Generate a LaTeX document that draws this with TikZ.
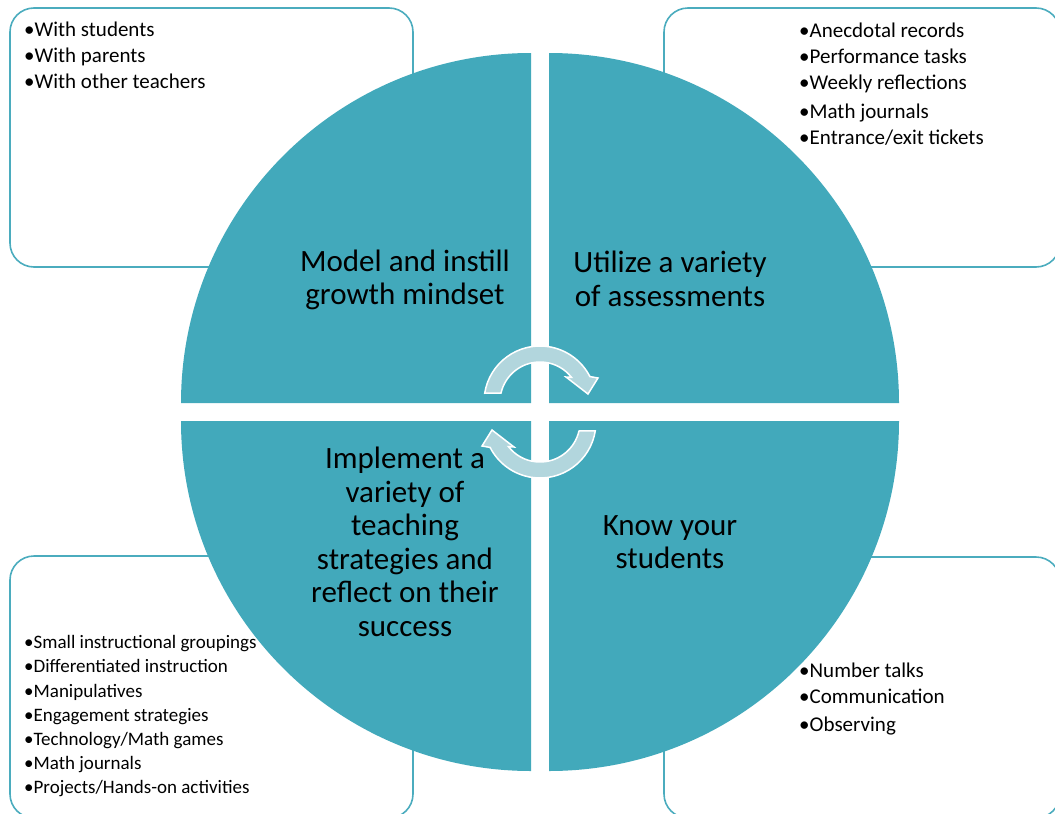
\documentclass[tikz,border=0pt]{standalone}
\usepackage{fontspec}
\setmainfont{Carlito}
\begin{document}
\begin{tikzpicture}[x=1pt,y=-1pt]

% Define colors for the cycle
\definecolor{quadfill}{RGB}{66,169,187}
\definecolor{boxline}{RGB}{75,172,190}
\definecolor{arrowfill}{RGB}{178,214,221}

\tikzset{
  listbox/.style={draw=boxline, line width=1.6pt, rounded corners=24pt},
  quadrant/.style={fill=quadfill},
  quadtext/.style={align=center, inner sep=0pt, font=\fontsize{31}{33.5}\selectfont},
  listtext/.style={align=left, anchor=north west, inner sep=0pt, font=\fontsize{21}{26}\selectfont},
  cyclearrow/.style={fill=arrowfill, draw=white, line width=1.5pt}
}

% Page frame
\useasboundingbox (0,0) rectangle (1055,814);
\clip (0,0) rectangle (1055,814);

% Boxes behind the circle
\draw[listbox] (10,8) rectangle (413,267);    % top left
\draw[listbox] (664,8) rectangle (1060,267);  % top right
\draw[listbox] (10,556) rectangle (413,818);  % bottom left
\draw[listbox] (664,557) rectangle (1060,818);% bottom right

% Four quarters of the circle
\fill[quadrant] (531,403) -- (181,403) arc[start angle=180, end angle=90, radius=350pt] -- cycle;
\fill[quadrant] (549,403) -- (549,53) arc[start angle=90, end angle=0, radius=350pt] -- cycle;
\fill[quadrant] (549,421) -- (899,421) arc[start angle=0, end angle=-90, radius=350pt] -- cycle;
\fill[quadrant] (531,421) -- (531,771) arc[start angle=270, end angle=180, radius=350pt] -- cycle;

% Upper circular arrow
\begin{scope}[shift={(540,402)}]
  \filldraw[cyclearrow] (171:56pt) arc[start angle=171, end angle=27, radius=56pt]
    -- (58pt,24pt) -- (48pt,8pt) -- (26pt,25pt) -- (38:40pt)
    arc[start angle=38, end angle=167, radius=40pt] -- cycle;
\end{scope}

% Lower circular arrow
\begin{scope}[shift={(540,422)}, rotate=180]
  \filldraw[cyclearrow] (171:56pt) arc[start angle=171, end angle=27, radius=56pt]
    -- (58pt,24pt) -- (48pt,8pt) -- (26pt,25pt) -- (38:40pt)
    arc[start angle=38, end angle=167, radius=40pt] -- cycle;
\end{scope}

% Quarter titles
\node[quadtext] (model) at (405,280) {Model and instill\\growth mindset};
\node[quadtext] (utilize) at (670,279) {Utilize a variety\\of assessments};
\node[quadtext] (implement) at (405,542) {Implement a\\variety of\\teaching\\strategies and\\reflect on their\\success};
\node[quadtext] (know) at (670,542) {Know your\\students};

% Lists in the boxes
\node[listtext] (partners) at (24,22) {•With students\\•With parents\\•With other teachers};
\node[listtext] (assessments) at (799,23) {•Anecdotal records\\•Performance tasks\\•Weekly reflections\\[3pt]•Math journals\\•Entrance/exit tickets};
\node[listtext, font=\fontsize{19}{24}\selectfont] (strategies) at (24,635) {•Small instructional groupings\\•Differentiated instruction\\[1pt]•Manipulatives\\•Engagement strategies\\•Technology/Math games\\•Math journals\\•Projects/Hands-on activities};
\node[listtext] (knowing) at (799,663) {•Number talks\\•Communication\\[2pt]•Observing};

\end{tikzpicture}
\end{document}
